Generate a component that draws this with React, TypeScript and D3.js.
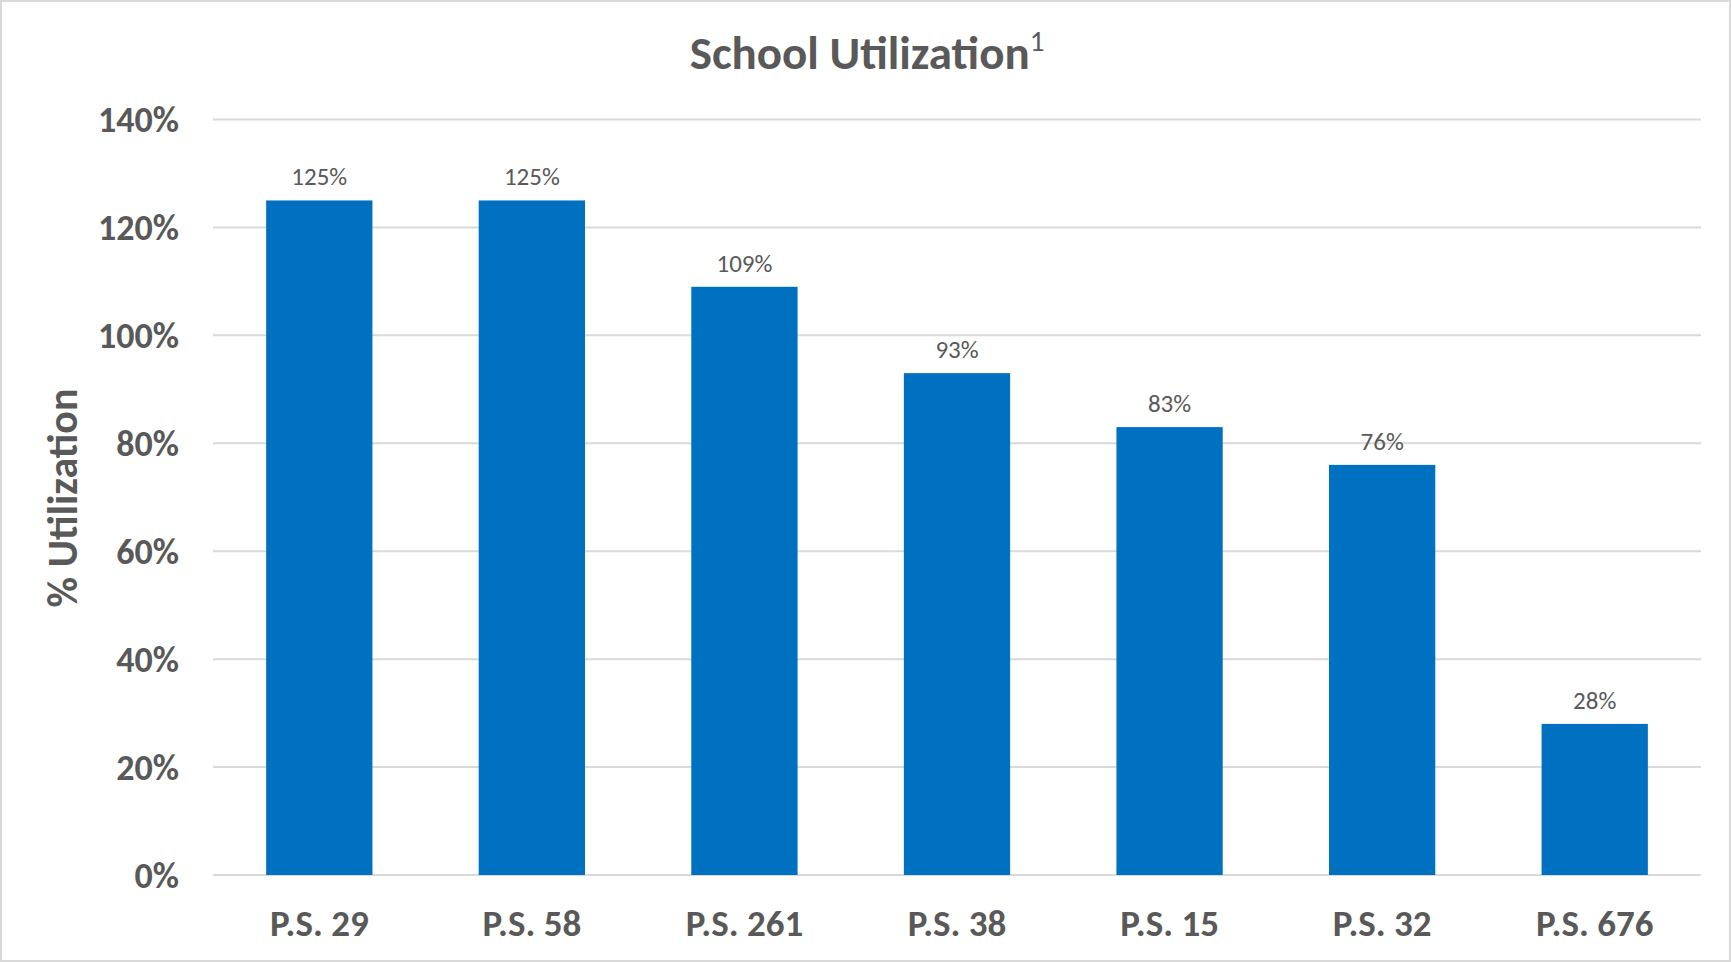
import React from "react";
import * as d3 from "d3";

const schools = ["P.S. 29", "P.S. 58", "P.S. 261", "P.S. 38", "P.S. 15", "P.S. 32", "P.S. 676"];
const utilization = [125, 125, 109, 93, 83, 76, 28];
const yTicks = [0, 20, 40, 60, 80, 100, 120, 140];

const W = 1731;
const H = 962;
const FONT = "Carlito, Calibri, Lato, 'Open Sans', sans-serif";
const TEXT = "#595959";

export default function App() {
  const margin = { left: 213, right: 1701, top: 119.5, bottom: 875 };
  const x = d3.scaleBand<string>().domain(schools).range([margin.left, margin.right]).paddingInner(0.5).paddingOuter(0.25);
  const y = d3.scaleLinear().domain([0, 140]).range([margin.bottom, margin.top]);

  return (
    <svg width={W} height={H} style={{ position: "absolute", left: 0, top: 0, display: "block" }} fontFamily={FONT}>
      <rect x={1} y={1} width={W - 2} height={H - 2} fill="#fff" stroke="#D9D9D9" strokeWidth={2} />
      <text x={867} y={69} textAnchor="middle" fontSize={47} fontWeight="bold" fill={TEXT}>
        School Utilization
        <tspan fontSize={29} fontWeight="normal" dy={-18}>1</tspan>
      </text>
      {yTicks.map((t) => (
        <g key={t}>
          <line x1={margin.left} x2={margin.right} y1={y(t)} y2={y(t)} stroke="#D9D9D9" strokeWidth={2} />
          <text x={179} y={y(t)} dy="0.36em" textAnchor="end" fontSize={36} fontWeight="bold" fill={TEXT}>
            {t}%
          </text>
        </g>
      ))}
      <text transform={`translate(62,498) rotate(-90)`} textAnchor="middle" dy="0.36em" fontSize={42} fontWeight="bold" fill={TEXT}>
        % Utilization
      </text>
      {schools.map((s, i) => (
        <g key={s}>
          <rect x={x(s)} y={y(utilization[i])} width={x.bandwidth()} height={y(0) - y(utilization[i])} fill="#0070C0" />
          <text x={(x(s) as number) + x.bandwidth() / 2} y={y(utilization[i]) - 15} textAnchor="middle" fontSize={25} fill={TEXT}>
            {utilization[i]}%
          </text>
          <text x={(x(s) as number) + x.bandwidth() / 2} y={936} textAnchor="middle" fontSize={37} fontWeight="bold" fill={TEXT}>
            {s}
          </text>
        </g>
      ))}
    </svg>
  );
}
